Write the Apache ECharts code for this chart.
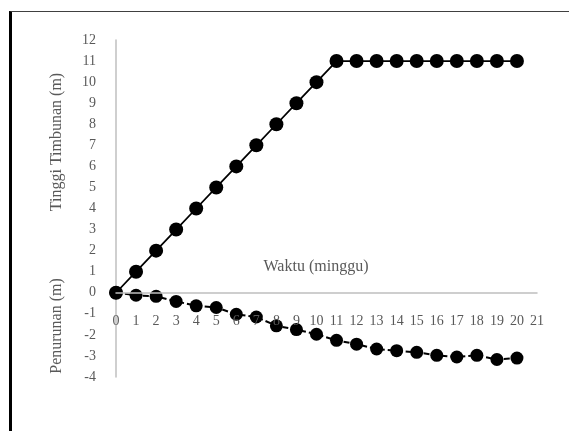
<!DOCTYPE html>
<html>
<head>
<meta charset="utf-8">
<script src="https://cdn.jsdelivr.net/npm/echarts@6/dist/echarts.min.js"></script>
<style>
  html, body { margin: 0; padding: 0; background: #fff; }
  #wrap { position: relative; width: 569px; height: 431px; }
  #chart { position: absolute; left: 0; top: 0; width: 569px; height: 431px; }
  #frame {
    position: absolute; left: 9px; top: 11px; right: 0; bottom: 0;
    border-left: 3px solid #000; border-top: 1px solid #404040;
    pointer-events: none;
  }
</style>
</head>
<body>
<div id="wrap">
  <div id="chart"></div>
  <div id="frame"></div>
</div>
<script>
// Week numbers (x axis)
const weeks = [0, 1, 2, 3, 4, 5, 6, 7, 8, 9, 10, 11, 12, 13, 14, 15, 16, 17, 18, 19, 20];
// Embankment height per week (m)
const tinggiTimbunan = [0, 1, 2, 3, 4, 5, 6, 7, 8, 9, 10, 11, 11, 11, 11, 11, 11, 11, 11, 11, 11];
// Settlement per week (m)
const penurunan = [0, -0.12, -0.17, -0.41, -0.62, -0.7, -1.02, -1.15, -1.57, -1.75, -1.97, -2.26, -2.44, -2.67, -2.75, -2.83, -2.97, -3.05, -2.97, -3.17, -3.1];

// Axis ranges
const xMin = 0, xMax = 21, xStep = 1;
const yMin = -4, yMax = 12, yStep = 1;

const titleFont = 'Liberation Serif, "Times New Roman", serif';
const textGray = '#595959';

const gridTop = 40, gridBottom = 54, chartH = 431;
const gridH = chartH - gridTop - gridBottom;
// Lift the x axis (line and labels) from the grid bottom up to y = 0
const zeroOffset = -((0 - yMin) / (yMax - yMin)) * gridH;

const chart = echarts.init(document.getElementById('chart'), null, { renderer: 'canvas' });

chart.setOption({
  animation: false,
  backgroundColor: '#fff',
  grid: { left: 116, right: 32, top: gridTop, bottom: gridBottom, containLabel: false },
  xAxis: {
    type: 'value',
    min: xMin, max: xMax, interval: xStep,
    position: 'bottom',
    offset: zeroOffset,
    z: 3,
    axisLine: { onZero: false, lineStyle: { color: '#bfbfbf', width: 1.5 } },
    axisTick: { show: false },
    splitLine: { show: false },
    axisLabel: { color: textGray, fontFamily: titleFont, fontSize: 14, margin: 22 }
  },
  yAxis: {
    type: 'value',
    min: yMin, max: yMax, interval: yStep,
    axisLine: { show: true, onZero: false, lineStyle: { color: '#bfbfbf', width: 1.5 } },
    axisTick: { show: false },
    splitLine: { show: false },
    axisLabel: { color: textGray, fontFamily: titleFont, fontSize: 14, margin: 20 }
  },
  graphic: [
    {
      type: 'text', x: 57, y: 142, rotation: Math.PI / 2,
      style: { text: 'Tinggi Timbunan (m)', fill: textGray, font: '16px ' + titleFont,
               textAlign: 'center', textVerticalAlign: 'middle' }
    },
    {
      type: 'text', x: 57, y: 326, rotation: Math.PI / 2,
      style: { text: 'Penurunan (m)', fill: textGray, font: '16px ' + titleFont,
               textAlign: 'center', textVerticalAlign: 'middle' }
    },
    {
      type: 'text', x: 316, y: 267,
      style: { text: 'Waktu (minggu)', fill: textGray, font: '16px ' + titleFont,
               textAlign: 'center', textVerticalAlign: 'middle' }
    }
  ],
  series: [
    {
      name: 'Tinggi Timbunan',
      type: 'line',
      data: weeks.map((w, i) => [w, tinggiTimbunan[i]]),
      symbol: 'circle',
      symbolSize: 14,
      lineStyle: { color: '#000', width: 1.75 },
      itemStyle: { color: '#000' },
      z: 2
    },
    {
      name: 'Penurunan',
      type: 'line',
      data: weeks.map((w, i) => [w, penurunan[i]]),
      symbol: 'circle',
      symbolSize: 13,
      lineStyle: { color: '#000', width: 2, type: [6, 3] },
      itemStyle: { color: '#000' },
      z: 2
    }
  ]
});
</script>
</body>
</html>
